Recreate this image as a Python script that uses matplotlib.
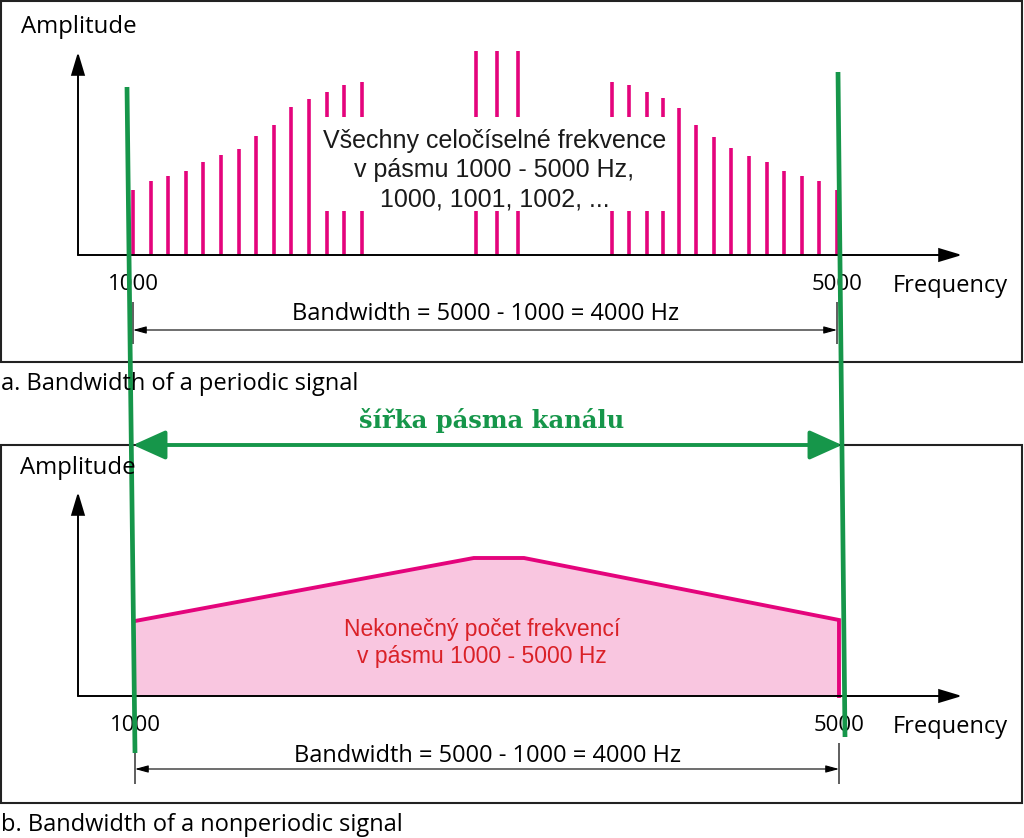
import matplotlib
matplotlib.use("Agg")
import matplotlib.pyplot as plt
from matplotlib.patches import FancyArrowPatch, Rectangle

# ---------------- data ----------------
# panel a: line spectrum of a periodic signal (amplitude in arbitrary units)
a_freq_full = [1000, 1100, 1200, 1300, 1400, 1500, 1600, 1700, 1800, 1900, 2000,
               4100, 4200, 4300, 4400, 4500, 4600, 4700, 4800, 4900, 5000]
a_amp_full = [65, 74, 79, 84, 93, 100, 106, 119, 130, 148, 156,
              147, 130, 118, 107, 99, 93, 84, 79, 74, 65]
a_freq_broken = [2100, 2200, 2300, 2950, 3070, 3190, 3720, 3820, 3920, 4010]
a_amp_broken = [163, 170, 173, 204, 204, 204, 173, 170, 163, 157]
a_break = (44, 138)          # amplitude range hidden behind the note

# panel b: continuous spectrum of a nonperiodic signal
b_freq = [1000, 2925, 3210, 5000]
b_amp = [75, 138, 138, 76]

band_low, band_high = 1000, 5000
tick_labels = ["1000", "5000"]

# ---------------- style ----------------
W, H, DPI = 1024, 838, 100
MAG = "#E4047C"
PINK = "#F9C6E0"
GREEN = "#16964A"
RED = "#DA2128"
MYRIAD = ["Open Sans", "DejaVu Sans"]
ARIAL = ["Liberation Sans", "DejaVu Sans"]
K = 0.176                    # pixels per Hz

fig = plt.figure(figsize=(W / DPI, H / DPI), dpi=DPI)


def panel_axes(x_at_low, base_y):
    ax = fig.add_axes([0, 0, 1, 1])
    ax.set_xlim(band_low - x_at_low / K, band_low + (W - x_at_low) / K)
    ax.set_ylim(base_y - H, base_y)
    ax.axis("off")
    ax.patch.set_alpha(0)
    return ax


def dimension(ax, y, t0, t1, ty):
    ax.vlines([band_low, band_high], t0, t1, color="#333333", lw=1.1)
    arr = FancyArrowPatch((band_low, y), (band_high, y),
                          arrowstyle="<|-|>,head_length=8,head_width=2.2",
                          mutation_scale=1, lw=0.8, color="black",
                          shrinkA=0, shrinkB=0)
    ax.add_patch(arr)
    ax.text((band_low + band_high) / 2, ty,
            f"Bandwidth = {band_high} - {band_low} = {band_high - band_low} Hz",
            ha="center", va="baseline", fontsize=17, family=MYRIAD)
    for f, lab in zip([band_low, band_high], tick_labels):
        ax.text(f, -35, lab, ha="center", va="baseline", fontsize=16, family=MYRIAD)


# ---------- panel a ----------
axa = panel_axes(133, 255)
axa.vlines(a_freq_full, 0, a_amp_full, color=MAG, lw=2.6)
axa.vlines(a_freq_broken, 0, a_break[0], color=MAG, lw=2.6)
axa.vlines(a_freq_broken, a_break[1], a_amp_broken, color=MAG, lw=2.6)
mid_a = 3053
axa.text(mid_a, 107, "Všechny celočíselné frekvence", ha="center", va="baseline",
         fontsize=18, family=ARIAL, color="#1a1a1a")
axa.text(mid_a, 78, "v pásmu 1000 - 5000 Hz,", ha="center", va="baseline",
         fontsize=18, family=ARIAL, color="#1a1a1a")
axa.text(mid_a, 49, "1000, 1001, 1002, ...", ha="center", va="baseline",
         fontsize=18, family=ARIAL, color="#1a1a1a")
dimension(axa, -75, -89, -47, -65)

# ---------- panel b ----------
axb = panel_axes(135, 696)
axb.fill_between(b_freq, 0, b_amp, color=PINK, lw=0)
axb.plot(b_freq + [b_freq[-1]], b_amp + [0], color=MAG, lw=2.8,
         solid_joinstyle="miter")
axb.text(2972, 60, "Nekonečný počet frekvencí", ha="center", va="baseline",
         fontsize=16.5, family=ARIAL, color=RED)
axb.text(2972, 33, "v pásmu 1000 - 5000 Hz", ha="center", va="baseline",
         fontsize=16.5, family=ARIAL, color=RED)
dimension(axb, -73, -88, -47, -66)

# ---------- overlay (pixel coordinates) ----------
ov = fig.add_axes([0, 0, 1, 1])
ov.set_xlim(0, W)
ov.set_ylim(H, 0)
ov.axis("off")
ov.patch.set_alpha(0)

ov.add_patch(Rectangle((1, 1), 1021, 361, fill=False, lw=1.5, ec="#222222"))
ov.add_patch(Rectangle((1, 445), 1021, 358, fill=False, lw=1.5, ec="#222222"))

for base, top in [(255, 52), (696, 492)]:
    for end in [(78, top), (962, base)]:
        ov.add_patch(FancyArrowPatch((78, base), end,
                                     arrowstyle="-|>,head_length=14,head_width=4.2",
                                     mutation_scale=1, lw=1.4, color="black",
                                     shrinkA=0, shrinkB=0, joinstyle="miter"))
    ov.text(893, base + 37, "Frequency", ha="left", va="baseline",
            fontsize=17, family=MYRIAD)

ov.text(21, 33, "Amplitude", ha="left", va="baseline", fontsize=17.3, family=MYRIAD)
ov.text(20, 474, "Amplitude", ha="left", va="baseline", fontsize=17.3, family=MYRIAD)
ov.text(1, 390, "a. Bandwidth of a periodic signal", ha="left", va="baseline",
        fontsize=17, family=MYRIAD)
ov.text(1, 831, "b. Bandwidth of a nonperiodic signal", ha="left", va="baseline",
        fontsize=17, family=MYRIAD)

# green highlight
ov.plot([127, 135], [87, 753], color=GREEN, lw=3.4, solid_capstyle="butt")
ov.plot([838, 845], [72, 737], color=GREEN, lw=3.4, solid_capstyle="butt")
ov.add_patch(FancyArrowPatch((133, 445), (842, 445),
                             arrowstyle="<|-|>,head_length=20,head_width=9",
                             mutation_scale=1, lw=2.8, color=GREEN,
                             shrinkA=0, shrinkB=0, zorder=5))
ov.text(492, 428, "šířka pásma kanálu", ha="center", va="baseline",
        fontsize=17.5, fontweight="bold", family=["DejaVu Serif"],
        color=GREEN)

fig.savefig("out.png", dpi=DPI)
